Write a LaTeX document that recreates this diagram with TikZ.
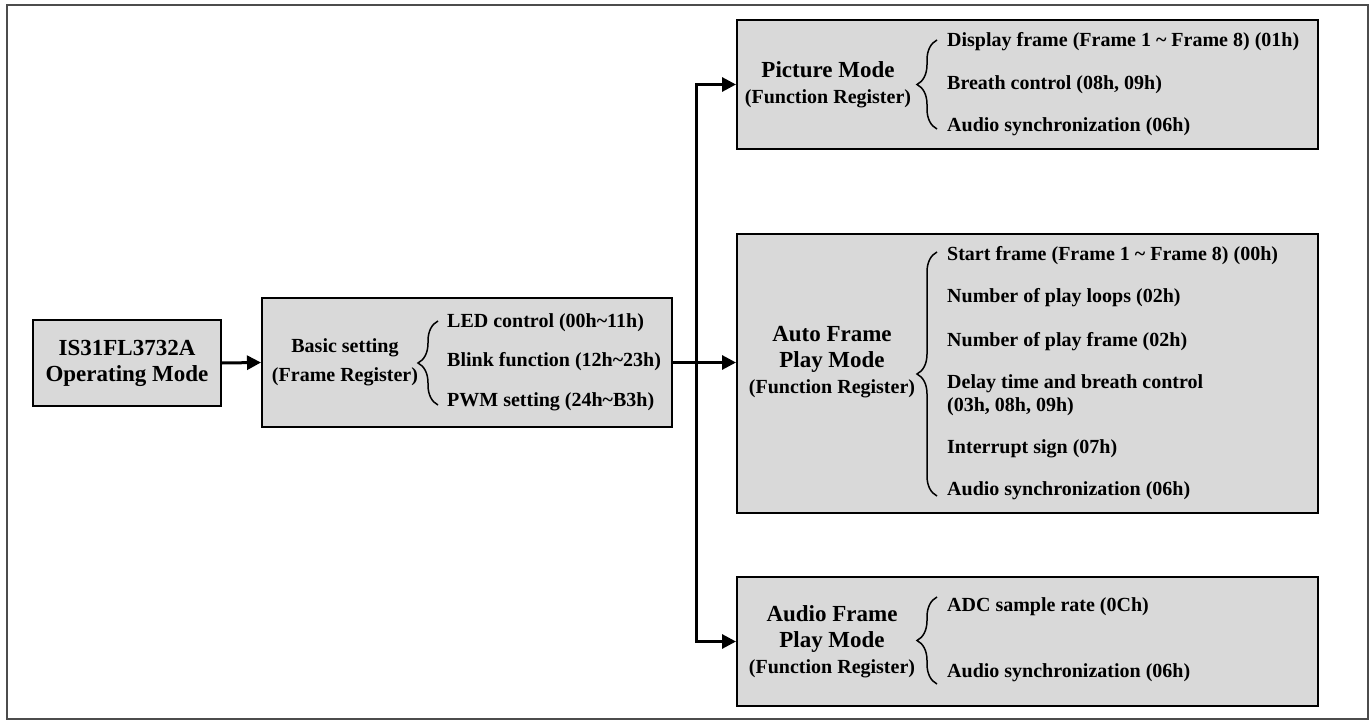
\documentclass[tikz,border=0pt]{standalone}
\usepackage{fontspec}
\setmainfont{Liberation Serif}
\usepackage{tikz}
\usepackage{xcolor}
\usetikzlibrary{arrows.meta,decorations.pathreplacing}
\definecolor{boxgray}{HTML}{D9D9D9}
\newcommand{\regfont}{\fontsize{20}{23}\selectfont}

\begin{document}
\begin{tikzpicture}[x=1pt,y=-1pt]
	\tikzstyle{frame} = [draw=black!70, line width=2pt]
	\tikzstyle{box} = [draw=black, line width=2pt, fill=boxgray, inner sep=0pt, minimum width=581pt, minimum height=129pt]
	\tikzstyle{title} = [font=\fontsize{23}{26}\selectfont\bfseries, align=center, inner sep=0pt]
	\tikzstyle{item} = [font=\fontsize{20}{23}\selectfont\bfseries, anchor=west, align=left, inner sep=0pt]
	\tikzstyle{conn} = [draw=black, line width=3pt, -{Triangle[length=14pt,width=14pt]}]
	\tikzstyle{brc} = [draw=black, line width=1.5pt, decorate, decoration={brace, amplitude=20pt}]
	\useasboundingbox (0,0) rectangle (1372,722);
	\draw[frame] (7,5) rectangle (1368,719);

		\node[box, title, minimum width=188pt, minimum height=86pt] (mode) at (127,363) {IS31FL3732A\\Operating Mode};

		\node[box, minimum width=410pt] (basic) at (467,362.5) {};
		\node[item, anchor=center, align=center] (basict) at (345,362) {Basic setting\\[6pt](Frame Register)};
		\draw[brc] (438,405) -- (438,321);
		\node[item] (led) at (447,323) {LED control (00h\textasciitilde 11h)};
		\node[item] (blink) at (447,362) {Blink function (12h\textasciitilde 23h)};
		\node[item] (pwm) at (447,402) {PWM setting (24h\textasciitilde B3h)};

		\node[box] (pic) at (1027.5,84.5) {};
		\node[title] (pict) at (828,85) {Picture Mode\\\regfont (Function Register)};
		\draw[brc] (937,129) -- (937,40);
		\node[item] (disp) at (947,42) {Display frame (Frame 1 \textasciitilde\ Frame 8) (01h)};
		\node[item] (breath) at (947,85) {Breath control (08h, 09h)};
		\node[item] (psync) at (947,127) {Audio synchronization (06h)};

		\node[box, minimum height=279pt] (auto) at (1027.5,373.5) {};
		\node[title] (autot) at (832,362) {Auto Frame\\Play Mode\\\regfont (Function Register)};
		\draw[brc] (937,496) -- (937,252);
		\node[item] (start) at (947,256) {Start frame (Frame 1 \textasciitilde\ Frame 8) (00h)};
		\node[item] (loops) at (947,298) {Number of play loops (02h)};
		\node[item] (nframe) at (947,342) {Number of play frame (02h)};
		\node[item] (delay) at (947,395.5) {Delay time and breath control\\(03h, 08h, 09h)};
		\node[item] (intr) at (947,449) {Interrupt sign (07h)};
		\node[item] (async) at (947,491) {Audio synchronization (06h)};

		\node[box] (aud) at (1027.5,641.5) {};
		\node[title] (audt) at (832,642) {Audio Frame\\Play Mode\\\regfont (Function Register)};
		\draw[brc] (937,684) -- (937,597);
		\node[item] (adc) at (947,607) {ADC sample rate (0Ch)};
		\node[item] (dsync) at (947,673) {Audio synchronization (06h)};

		\coordinate (jn) at (696,362.5);
		\draw[conn] (mode.east) -- (basic.west);
		\draw[line width=3pt] (basic.east) -- (jn);
		\draw[conn] (jn) -- (auto.west |- jn);
		\draw[conn] (jn) |- (pic.west);
		\draw[conn] (jn) |- (aud.west);
	\end{tikzpicture}
\end{document}
